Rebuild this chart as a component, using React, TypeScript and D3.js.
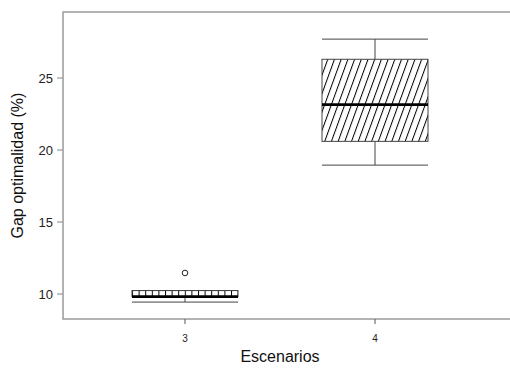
import * as d3 from "d3";
import { useRef, useEffect } from "react";

const WIDTH = 510;
const HEIGHT = 369;

// Boxplot stats
const scenarios = [3, 4];
const whiskerLow = [9.44, 18.95];
const q1 = [9.82, 20.6];
const median = [9.82, 23.15];
const q3 = [10.24, 26.3];
const whiskerHigh = [10.24, 27.7];
const outliers = [[11.46], []];
const hatchAngle = [0, 20];

const yTicks = [10, 15, 20, 25];
const yLimits = [8.26, 29.58];
const xLimits = [2.358, 4.72];

export default function App() {
  const svgRef = useRef(null);

  useEffect(() => {
    const svg = d3.select(svgRef.current);
    svg.selectAll("*").remove();

    const x = d3.scaleLinear().domain([3, 4]).range([185, 375]);
    const y = d3.scaleLinear().domain([10, 25]).range([294, 78]);
    const halfBox = 53;
    const font = "'Liberation Sans', Arial, sans-serif";

    // hatch patterns
    const defs = svg.append("defs");
    scenarios.forEach((s, i) => {
      const p = defs
        .append("pattern")
        .attr("id", `hatch${i}`)
        .attr("patternUnits", "userSpaceOnUse")
        .attr("width", i === 0 ? 6.6 : 6.3)
        .attr("height", 10)
        .attr("patternTransform", `translate(${x(s) - halfBox},0) rotate(${hatchAngle[i]})`);
      p.append("line")
        .attr("x1", 0.5).attr("x2", 0.5)
        .attr("y1", 0).attr("y2", 10)
        .attr("stroke", "#000")
        .attr("stroke-width", 1);
    });

    // frame (left, top, bottom; right side runs off the page)
    const frameColor = "#9a9a9a";
    const left = x(xLimits[0]);
    const right = x(xLimits[1]);
    const top = y(yLimits[1]);
    const bottom = y(yLimits[0]);
    svg.append("path")
      .attr("d", `M${right},${top}H${left}V${bottom}H${right}`)
      .attr("fill", "none")
      .attr("stroke", frameColor)
      .attr("stroke-width", 1.5);

    // y axis ticks
    const yAxis = svg.append("g");
    yTicks.forEach((t) => {
      yAxis.append("line")
        .attr("x1", left - 6).attr("x2", left)
        .attr("y1", y(t)).attr("y2", y(t))
        .attr("stroke", frameColor).attr("stroke-width", 1.2);
      yAxis.append("text")
        .attr("x", left - 10).attr("y", y(t))
        .attr("dy", "0.35em")
        .attr("text-anchor", "end")
        .attr("font-family", font)
        .attr("font-size", 13)
        .attr("fill", "#222")
        .text(t);
    });

    // x axis ticks
    scenarios.forEach((s) => {
      svg.append("line")
        .attr("x1", x(s)).attr("x2", x(s))
        .attr("y1", bottom).attr("y2", bottom + 5)
        .attr("stroke", "#555").attr("stroke-width", 1);
      svg.append("text")
        .attr("x", x(s)).attr("y", bottom + 23)
        .attr("text-anchor", "middle")
        .attr("font-family", font)
        .attr("font-size", 10)
        .attr("fill", "#222")
        .text(s);
    });

    // boxes
    const boxColor = "#444";
    scenarios.forEach((s, i) => {
      const g = svg.append("g");
      const cx = x(s);
      // whiskers
      g.append("line")
        .attr("x1", cx).attr("x2", cx)
        .attr("y1", y(whiskerHigh[i])).attr("y2", y(q3[i]))
        .attr("stroke", boxColor);
      g.append("line")
        .attr("x1", cx).attr("x2", cx)
        .attr("y1", y(q1[i])).attr("y2", y(whiskerLow[i]))
        .attr("stroke", boxColor);
      [whiskerHigh[i], whiskerLow[i]].forEach((v) => {
        g.append("line")
          .attr("x1", cx - halfBox).attr("x2", cx + halfBox)
          .attr("y1", y(v)).attr("y2", y(v))
          .attr("stroke", boxColor);
      });
      // box
      g.append("rect")
        .attr("x", cx - halfBox)
        .attr("y", y(q3[i]))
        .attr("width", halfBox * 2)
        .attr("height", Math.max(y(q1[i]) - y(q3[i]), 0.5))
        .attr("fill", `url(#hatch${i})`)
        .attr("stroke", boxColor)
        .attr("stroke-width", 1);
      // median
      g.append("line")
        .attr("x1", cx - halfBox).attr("x2", cx + halfBox)
        .attr("y1", y(median[i])).attr("y2", y(median[i]))
        .attr("stroke", "#000")
        .attr("stroke-width", 2.8);
      // outliers
      outliers[i].forEach((o) => {
        g.append("circle")
          .attr("cx", cx).attr("cy", y(o))
          .attr("r", 2.8)
          .attr("fill", "none")
          .attr("stroke", "#222");
      });
    });

    // titles
    svg.append("text")
      .attr("x", (x(3) + x(4)) / 2)
      .attr("y", 362)
      .attr("text-anchor", "middle")
      .attr("font-family", font)
      .attr("font-size", 16)
      .attr("fill", "#111")
      .text("Escenarios");
    svg.append("text")
      .attr("transform", `translate(23,${(top + bottom) / 2}) rotate(-90)`)
      .attr("text-anchor", "middle")
      .attr("font-family", font)
      .attr("font-size", 16)
      .attr("fill", "#111")
      .text("Gap optimalidad (%)");
  }, []);

  return (
    <svg
      ref={svgRef}
      width={WIDTH}
      height={HEIGHT}
      style={{ position: "absolute", left: 0, top: 0, background: "#fff" }}
    />
  );
}
